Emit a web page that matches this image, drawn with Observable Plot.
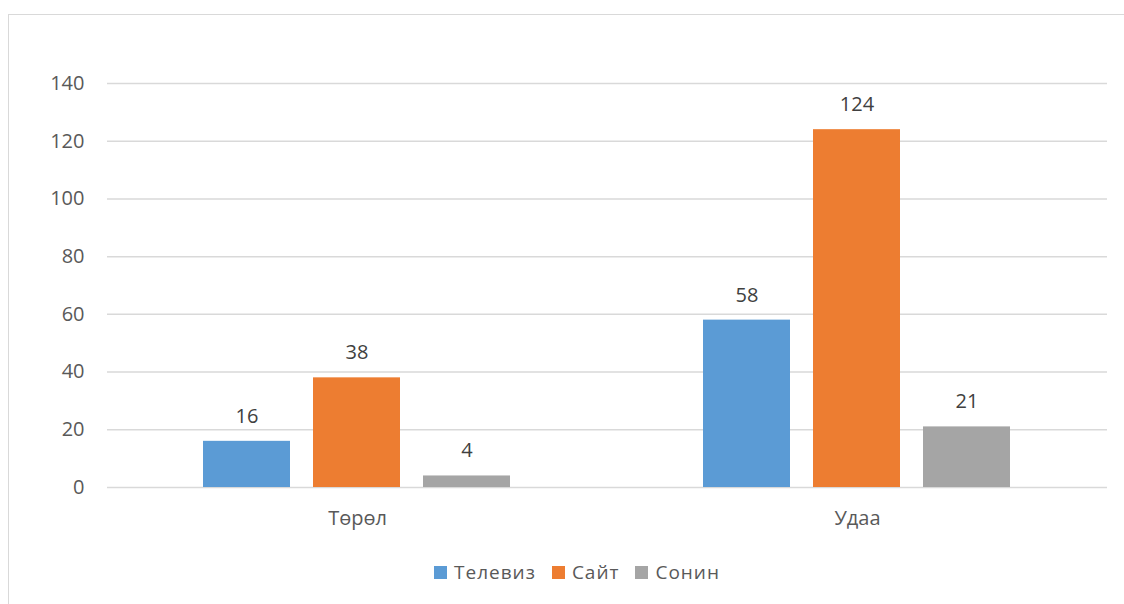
<!DOCTYPE html>
<html>
<head>
<meta charset="utf-8">
<script src="https://cdn.jsdelivr.net/npm/d3@7"></script>
<script src="https://cdn.jsdelivr.net/npm/@observablehq/plot@0.6"></script>
<style>
  html, body { margin: 0; padding: 0; background: #fff; }
  #wrap { position: relative; width: 1124px; height: 604px; overflow: hidden; font-family: "Open Sans", "Noto Sans", sans-serif; }
  #frame { position: absolute; left: 8px; top: 14px; width: 1140px; height: 620px; border: 1.5px solid #d9d9d9; box-sizing: border-box; }
  #chart { position: absolute; left: 0; top: 0; }
  #legend { position: absolute; top: 558px; left: 0; width: 1124px; display: flex; justify-content: center; gap: 16px; font-size: 19px; letter-spacing: 1px; color: #595959; padding-left: 30px; box-sizing: border-box; line-height: 28px; }
  .item { display: flex; align-items: center; gap: 7px; }
  .sw { width: 13px; height: 13px; display: inline-block; }
</style>
</head>
<body>
<div id="wrap">
  <div id="frame"></div>
  <div id="chart"></div>
  <div id="legend"></div>
</div>
<script>
const categories = ["Төрөл", "Удаа"];
const series = ["Телевиз", "Сайт", "Сонин"];
const televiz = [16, 58];
const sait = [38, 124];
const sonin = [4, 21];
const colors = ["#5B9BD5", "#ED7D31", "#A5A5A5"];
const yTicks = [0, 20, 40, 60, 80, 100, 120, 140];

const values = [televiz, sait, sonin];
const data = categories.flatMap((c, i) => series.map((s, j) => ({category: c, series: s, value: values[j][i]})));

const font = '"Open Sans", "Noto Sans", sans-serif';

const chart = Plot.plot({
  width: 1124,
  height: 604,
  marginLeft: 106,
  marginRight: 17,
  marginTop: 83,
  marginBottom: 117,
  style: {fontFamily: font, fontSize: "20px", color: "#595959", background: "transparent"},
  fx: {domain: categories, padding: 0, label: null, axis: null},
  x: {domain: series, paddingInner: 0.205, paddingOuter: 0.855, axis: null},
  y: {domain: [0, 140], label: null, axis: null},
  color: {domain: series, range: colors},
  marks: [
    Plot.ruleY(yTicks, {stroke: "#d9d9d9", strokeWidth: 1.5}),
    Plot.axisY(yTicks, {tickSize: 0, tickPadding: 23, label: null, fontSize: 20}),
    Plot.axisFx({anchor: "bottom", tickSize: 0, tickPadding: 23, label: null, fontSize: 20}),
    Plot.barY(data, {fx: "category", x: "series", y: "value", fill: "series"}),
    Plot.text(data, {fx: "category", x: "series", y: "value", text: d => String(d.value), dy: -25, fontSize: 20, fill: "#404040"})
  ]
});
document.getElementById("chart").appendChild(chart);

const legend = document.getElementById("legend");
series.forEach((s, i) => {
  const item = document.createElement("div");
  item.className = "item";
  const sw = document.createElement("span");
  sw.className = "sw";
  sw.style.background = colors[i];
  const t = document.createElement("span");
  t.textContent = s;
  item.appendChild(sw);
  item.appendChild(t);
  legend.appendChild(item);
});
</script>
</body>
</html>
